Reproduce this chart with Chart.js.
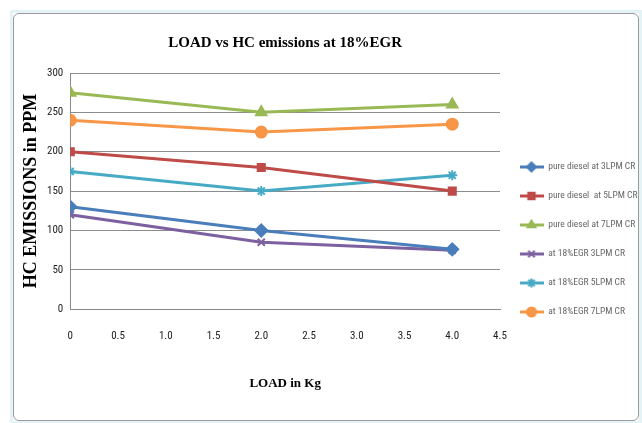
<!DOCTYPE html>
<html>
<head>
<meta charset="utf-8">
<script src="https://cdn.jsdelivr.net/npm/chart.js@4/dist/chart.umd.min.js"></script>
<style>
  html, body { margin: 0; padding: 0; background: #fff; }
  #frame {
    position: absolute; left: 10px; top: 10px; width: 626px; height: 408px;
    border: 3px solid #e3f3f6;
  }
  #inner {
    position: absolute; left: 0; top: 0; right: 0; bottom: 0;
    border: 1px solid #9b9b9b; border-radius: 6px;
  }
  #chartBox { position: absolute; left: 0; top: 0; width: 642px; height: 423px; }
</style>
</head>
<body>
<div id="frame"><div id="inner"></div></div>
<div id="chartBox"><canvas id="hcChart"></canvas></div>
<script>
// load values on x axis (kg)
const loads = [0, 2, 4];

// HC emissions in ppm, one array per series
const pureDiesel3 = [130, 100, 76];
const pureDiesel5 = [200, 180, 150];
const pureDiesel7 = [275, 250, 260];
const egr3 = [120, 85, 75];
const egr5 = [175, 150, 170];
const egr7 = [240, 225, 235];

const seriesNames = [
    'pure diesel at 3LPM CR',
    'pure diesel  at 5LPM CR',
    'pure diesel at 7LPM CR',
    'at 18%EGR 3LPM CR',
    'at 18%EGR 5LPM CR',
    'at 18%EGR 7LPM CR'
];
const seriesValues = [pureDiesel3, pureDiesel5, pureDiesel7, egr3, egr5, egr7];
const seriesColors = ['#4a7ebb', '#be4b48', '#98b954', '#7d60a0', '#46aac5', '#f79646'];
const seriesMarkers = ['rectRot', 'rect', 'triangle', 'crossRot', 'star', 'circle'];
const markerRadius = [6, 5, 6, 5, 5, 5.5];

const serif = "'Liberation Serif', 'Times New Roman', serif";
// narrow sans, closest to the Calibri labels of the original
const narrow = "'Roboto Condensed', Roboto, sans-serif";

function toPoints(values) {
    return loads.map((x, i) => ({ x: x, y: values[i] }));
}

// small picture of line + marker for the legend
function legendIcon(i) {
    const c = document.createElement('canvas');
    c.width = 24;
    c.height = 12;
    const ctx = c.getContext('2d');
    ctx.strokeStyle = seriesColors[i];
    ctx.fillStyle = seriesColors[i];
    ctx.lineWidth = 3;
    ctx.beginPath();
    ctx.moveTo(0, 6);
    ctx.lineTo(24, 6);
    ctx.stroke();
    ctx.lineWidth = 2;
    Chart.helpers.drawPoint(ctx, {
        pointStyle: seriesMarkers[i],
        radius: 4.5,
        rotation: 0,
        borderWidth: 2
    }, 12, 6);
    return c;
}

const datasets = seriesNames.map((name, i) => ({
    label: name,
    data: toPoints(seriesValues[i]),
    borderColor: seriesColors[i],
    backgroundColor: seriesColors[i],
    borderWidth: 3,
    pointStyle: seriesMarkers[i],
    pointRadius: markerRadius[i],
    pointBorderWidth: 2,
    tension: 0
}));

new Chart(document.getElementById('hcChart'), {
    type: 'line',
    data: { datasets: datasets },
    options: {
        responsive: true,
        maintainAspectRatio: false,
        animation: false,
        layout: { padding: { left: 10, right: 0, top: 18, bottom: 32 } },
        plugins: {
            title: {
                display: true,
                fullSize: false,
                text: 'LOAD vs HC emissions at 18%EGR',
                color: '#000',
                font: { family: serif, size: 15, weight: 'bold' },
                padding: { top: 16, bottom: 21 }
            },
            legend: {
                position: 'right',
                maxWidth: 142,
                title: {
                    display: true,
                    text: '',
                    font: { size: 10 },
                    padding: { top: 0, bottom: 58 }
                },
                labels: {
                    usePointStyle: true,
                    pointStyleWidth: 24,
                    padding: 19.5,
                    color: '#222',
                    font: { family: narrow, size: 9.5 },
                    generateLabels: (chart) => chart.data.datasets.map((ds, i) => ({
                        text: ds.label,
                        pointStyle: legendIcon(i),
                        fillStyle: ds.borderColor,
                        strokeStyle: ds.borderColor,
                        lineWidth: 0,
                        hidden: false,
                        datasetIndex: i
                    }))
                }
            },
            tooltip: { enabled: false }
        },
        scales: {
            x: {
                type: 'linear',
                min: 0,
                max: 4.5,
                ticks: {
                    stepSize: 0.5,
                    color: '#222',
                    padding: 20,
                    font: { family: narrow, size: 11 }
                },
                grid: { display: false, drawTicks: false },
                border: { display: true, color: '#888' },
                title: {
                    display: true,
                    text: 'LOAD in Kg',
                    color: '#000',
                    font: { family: serif, size: 13, weight: 'bold' },
                    padding: { top: 13, bottom: 0 }
                }
            },
            y: {
                min: 0,
                max: 300,
                ticks: {
                    stepSize: 50,
                    color: '#222',
                    padding: 7,
                    font: { family: narrow, size: 11 }
                },
                grid: { color: '#8c8c8c', drawTicks: false },
                border: { display: true, color: '#888' },
                title: {
                    display: true,
                    text: 'HC EMISSIONS in PPM',
                    color: '#000',
                    font: { family: serif, size: 18, weight: 'bold', lineHeight: 1 },
                    padding: { top: 12, bottom: 0 }
                }
            }
        }
    }
});
</script>
</body>
</html>
